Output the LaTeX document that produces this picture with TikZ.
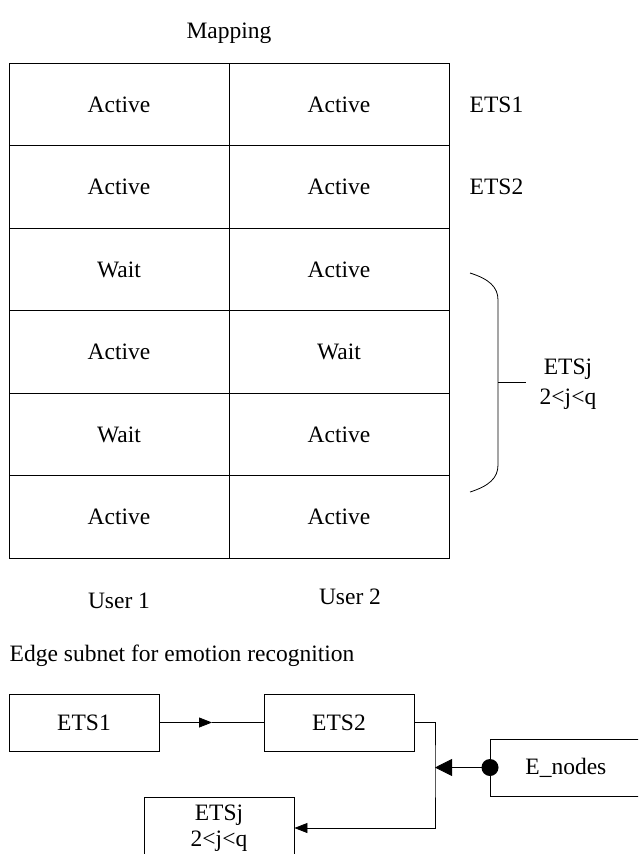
\documentclass[tikz,border=0pt]{standalone}
\usepackage{fontspec}
\setmainfont{Liberation Serif}
\usetikzlibrary{arrows.meta}

\begin{document}
\begin{tikzpicture}[x=1pt,y=-1pt,line width=0.8pt,
  font=\fontsize{23.5}{28}\selectfont,
  cell/.style={draw,minimum width=220pt,minimum height=82.5pt,inner sep=0pt},
  subbox/.style={draw,minimum width=150pt,minimum height=57pt,inner sep=0pt,align=center},
  tip/.style={-{Triangle[length=13pt,width=10pt]}}]
\useasboundingbox (0,0) rectangle (638,854);
\clip (0,0) rectangle (638,854);

\node (title) at (229,33) {Mapping};

% mapping table, user 1 left, user 2 right
\node [cell] (a1) at (119,104.5) {Active};
\node [cell] (b1) at (339,104.5) {Active};
\node [cell] (a2) at (119,187) {Active};
\node [cell] (b2) at (339,187) {Active};
\node [cell] (a3) at (119,269.5) {Wait};
\node [cell] (b3) at (339,269.5) {Active};
\node [cell] (a4) at (119,352) {Active};
\node [cell] (b4) at (339,352) {Wait};
\node [cell] (a5) at (119,434.5) {Wait};
\node [cell] (b5) at (339,434.5) {Active};
\node [cell] (a6) at (119,517) {Active};
\node [cell] (b6) at (339,517) {Active};

\node [anchor=west] (s1) at (466,104.5) {ETS1};
\node [anchor=west] (s2) at (466,187) {ETS2};

% brace round rows 3 to 6
\draw (470,273) .. controls (489,279) and (498,287) .. (498,300) -- (498,465)
  .. controls (498,478) and (489,486) .. (470,492);
\node [align=center,font=\fontsize{23.5}{30}\selectfont] (sj) at (568,384) {ETSj\\2<j<q};
\draw (498,382) -- (526,382);

\node (u1) at (119,601) {User 1};
\node (u2) at (350,597) {User 2};

\node [anchor=west] (edge) at (6,656) {Edge subnet for emotion recognition};

% edge subnet
\node [subbox] (e1) at (84,722.5) {ETS1};
\node [subbox] (e2) at (339,722.5) {ETS2};
\node [draw,anchor=west,minimum height=57pt,text width=170pt,inner xsep=35pt,inner ysep=0pt] (en) at (490,767.5) {E\_nodes};
\node [subbox,minimum height=62pt,font=\fontsize{23.5}{26}\selectfont] (ej) at (219,828) {ETSj\\2<j<q};
\coordinate (m1) at (212,722.5);
\coordinate (bus) at (435,767.5);

\draw [tip] (e1) -- (m1);
\draw (m1) -- (e2);
\draw [tip] (e2.east) -| (bus) |- (ej.east);
\draw [-{Triangle[length=17pt,width=17pt]}] (en.west) -- (bus);
\fill (en.west) circle (8.5pt);
\end{tikzpicture}
\end{document}
